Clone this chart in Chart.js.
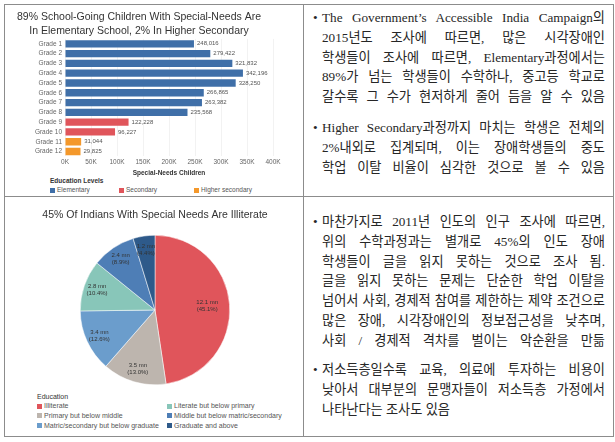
<!DOCTYPE html>
<html>
<head>
<meta charset="utf-8">
<script src="https://cdn.jsdelivr.net/npm/chart.js@4.4.0/dist/chart.umd.min.js"></script>
<style>
  html, body { margin: 0; padding: 0; background: #fff; }
  body { width: 615px; height: 442px; position: relative; overflow: hidden; font-family: "Liberation Sans", Arial, sans-serif; }
  .frame { position: absolute; left: 4px; top: 4px; width: 608px; height: 431px; border: 1px solid #8c8c8c; }
  .vline { position: absolute; left: 303px; top: 4px; width: 1px; height: 433px; background: #8c8c8c; }
  .hline { position: absolute; left: 4px; top: 196px; width: 610px; height: 1px; background: #8c8c8c; }
  canvas { position: absolute; }
  .lgd { position: absolute; color: #555; white-space: nowrap; }
  .lgd .ttl { color: #333; }
  .lgd .item { position: absolute; }
  .lgd .sw { display: inline-block; width: 5px; height: 5px; margin-right: 2px; vertical-align: -0.5px; }
  .txt { position: absolute; left: 322px; width: 283px; font-family: "Liberation Serif", "Noto Sans CJK KR", serif; font-size: 13.2px; line-height: 19.8px; color: #262626; }
  .line { position: relative; white-space: nowrap; text-align: left; }
  .line .b { position: absolute; left: -9px; }
</style>
</head>
<body>
<div class="frame"></div>
<div class="vline"></div>
<div class="hline"></div>

<canvas id="gradeChart" width="298" height="172" style="left:5px; top:5px;"></canvas>
<div id="gradeLegend" class="lgd" style="left:50px; top:177px; font-size:6.5px;"></div>

<canvas id="eduChart" width="298" height="190" style="left:6px; top:198px;"></canvas>
<div id="eduLegend" class="lgd" style="left:37px; top:393px; font-size:7px;"></div>

<div class="txt" style="top:8px;">
  <div class="line"><span class="b">•</span><span>The Government’s Accessible India Campaign의</span></div>
  <div class="line"><span>2015년도 조사에 따르면, 많은 시각장애인</span></div>
  <div class="line"><span>학생들이 조사에 따르면, Elementary과정에서는</span></div>
  <div class="line"><span>89%가 넘는 학생들이 수학하나, 중고등 학교로</span></div>
  <div class="line"><span>갈수록 그 수가 현저하게 줄어 듬을 알 수 있음</span></div>
</div>
<div class="txt" style="top:118px;">
  <div class="line"><span class="b">•</span><span>Higher Secondary과정까지 마치는 학생은 전체의</span></div>
  <div class="line"><span>2%내외로 집계되며, 이는 장애학생들의 중도</span></div>
  <div class="line"><span>학업 이탈 비율이 심각한 것으로 볼 수 있음</span></div>
</div>
<div class="txt" style="top:212px;">
  <div class="line"><span class="b">•</span><span>마찬가지로 2011년 인도의 인구 조사에 따르면,</span></div>
  <div class="line"><span>위의 수학과정과는 별개로 45%의 인도 장애</span></div>
  <div class="line"><span>학생들이 글을 읽지 못하는 것으로 조사 됨.</span></div>
  <div class="line"><span>글을 읽지 못하는 문제는 단순한 학업 이탈을</span></div>
  <div class="line"><span>넘어서 사회, 경제적 참여를 제한하는 제약 조건으로</span></div>
  <div class="line"><span>많은 장애, 시각장애인의 정보접근성을 낮추며,</span></div>
  <div class="line"><span>사회 / 경제적 격차를 벌이는 악순환을 만듦</span></div>
</div>
<div class="txt" style="top:360px;">
  <div class="line"><span class="b">•</span><span>저소득층일수록 교육, 의료에 투자하는 비용이</span></div>
  <div class="line"><span>낮아서 대부분의 문맹자들이 저소득층 가정에서</span></div>
  <div class="line last"><span>나타난다는 조사도 있음</span></div>
</div>

<script>
// 학년별 장애 학생 수
const grades = ['Grade 1', 'Grade 2', 'Grade 3', 'Grade 4', 'Grade 5', 'Grade 6',
  'Grade 7', 'Grade 8', 'Grade 9', 'Grade 10', 'Grade 11', 'Grade 12'];
const children = [248016, 279422, 321832, 342196, 328250, 266865,
  263382, 235568, 122228, 96227, 31044, 29825];
const gradeLevel = [0, 0, 0, 0, 0, 0, 0, 0, 1, 1, 2, 2];
const levels = ['Elementary', 'Secondary', 'Higher secondary'];
const levelColors = ['#3f6fa8', '#e0555b', '#f4982b'];
const xTickStep = 50000;
const xMax = 400000;

// 교육 수준별 인구 (백만 명)
const eduGroups = ['Illiterate', 'Primary but below middle', 'Matric/secondary but below graduate',
  'Literate but below primary', 'Middle but below matric/secondary', 'Graduate and above'];
const eduMillions = [12.1, 3.5, 3.4, 2.8, 2.4, 1.2];
const eduShare = ['45.1%', '13.0%', '12.6%', '10.4%', '8.9%', '4.4%'];
const eduColors = ['#e0555b', '#bdb5ae', '#6b9dcc', '#88c6b9', '#4e7eb6', '#2e5a8a'];
const eduLegendOrder = [0, 3, 1, 4, 2, 5];

const sans = '"Liberation Sans", Arial, sans-serif';

// 막대 끝에 값 표시
const barValueLabels = {
  id: 'barValueLabels',
  afterDatasetsDraw(chart) {
    const ctx = chart.ctx;
    const meta = chart.getDatasetMeta(0);
    ctx.save();
    ctx.font = '6px ' + sans;
    ctx.fillStyle = '#555';
    ctx.textBaseline = 'middle';
    meta.data.forEach((bar, i) => {
      ctx.fillText(children[i].toLocaleString('en-US'), bar.x + 3, bar.y);
    });
    ctx.restore();
  }
};

// 파이 조각 안에 라벨 표시
const pieLabels = {
  id: 'pieLabels',
  afterDatasetsDraw(chart) {
    const ctx = chart.ctx;
    const meta = chart.getDatasetMeta(0);
    ctx.save();
    ctx.font = '6px ' + sans;
    ctx.fillStyle = '#333';
    ctx.textAlign = 'center';
    ctx.textBaseline = 'middle';
    meta.data.forEach((arc, i) => {
      const a = (arc.startAngle + arc.endAngle) / 2;
      const r = arc.outerRadius * (arc.endAngle - arc.startAngle > 2 ? 0.7 : 0.82);
      const x = arc.x + Math.cos(a) * r;
      const y = arc.y + Math.sin(a) * r;
      ctx.fillText(eduMillions[i] + ' mn', x, y - 3.5);
      ctx.fillText('(' + eduShare[i] + ')', x, y + 3.5);
    });
    ctx.restore();
  }
};

new Chart(document.getElementById('gradeChart'), {
  type: 'bar',
  data: {
    labels: grades,
    datasets: [{
      data: children,
      backgroundColor: gradeLevel.map(l => levelColors[l]),
      barPercentage: 0.75,
      categoryPercentage: 1
    }]
  },
  options: {
    indexAxis: 'y',
    responsive: false,
    animation: false,
    layout: { padding: { left: 0, right: 30, top: 0, bottom: 0 } },
    plugins: {
      legend: { display: false },
      tooltip: { enabled: false },
      title: {
        display: true,
        text: ['89% School-Going Children With Special-Needs Are', 'In Elementary School, 2% In Higher Secondary'],
        color: '#333',
        font: { family: sans, size: 10.5, weight: 'normal', lineHeight: 1.33 },
        padding: { top: 5, bottom: 1 }
      }
    },
    scales: {
      x: {
        min: 0,
        max: xMax,
        ticks: { stepSize: xTickStep, callback: v => (v / 1000) + 'K', color: '#666', font: { family: sans, size: 6.5 }, padding: 2 },
        grid: { color: '#f2f2f2', drawTicks: false },
        border: { display: false },
        title: { display: true, text: 'Special-Needs Children', color: '#333', font: { family: sans, size: 6.5, weight: 'bold' }, padding: { top: 1, bottom: 0 } }
      },
      y: {
        ticks: { autoSkip: false, color: '#666', font: { family: sans, size: 6.5 }, padding: 3 },
        grid: { display: false, drawTicks: false },
        border: { display: false },
        afterFit(scale) { scale.width = 60; }
      }
    }
  },
  plugins: [barValueLabels]
});

new Chart(document.getElementById('eduChart'), {
  type: 'pie',
  data: {
    labels: eduGroups,
    datasets: [{
      data: eduMillions,
      backgroundColor: eduColors,
      borderColor: '#fff',
      borderWidth: 0.5
    }]
  },
  options: {
    responsive: false,
    animation: false,
    layout: { padding: { left: 0, right: 0, top: 0, bottom: 3 } },
    plugins: {
      legend: { display: false },
      tooltip: { enabled: false },
      title: {
        display: true,
        text: '45% Of Indians With Special Needs Are Illiterate',
        color: '#333',
        font: { family: sans, size: 10.5, weight: 'normal', lineHeight: 1.2 },
        padding: { top: 10.7, bottom: 13.7 }
      }
    }
  },
  plugins: [pieLabels]
});

// 범례 (HTML)
const gl = document.getElementById('gradeLegend');
gl.innerHTML = '<div class="ttl" style="font-weight:bold;">Education Levels</div>';
const gradeLegendX = [0, 69, 144];
levels.forEach((name, i) => {
  const d = document.createElement('div');
  d.className = 'item';
  d.style.left = gradeLegendX[i] + 'px';
  d.style.top = '9px';
  d.innerHTML = '<span class="sw" style="background:' + levelColors[i] + '"></span>' + name;
  gl.appendChild(d);
});

const el = document.getElementById('eduLegend');
el.innerHTML = '<div class="ttl">Education</div>';
eduLegendOrder.forEach((idx, k) => {
  const d = document.createElement('div');
  d.className = 'item';
  d.style.left = (k % 2 ? 130 : 0) + 'px';
  d.style.top = (9 + Math.floor(k / 2) * 9.8) + 'px';
  d.innerHTML = '<span class="sw" style="background:' + eduColors[idx] + '"></span>' + eduGroups[idx];
  el.appendChild(d);
});

// 본문 줄 맞춤
document.querySelectorAll('.line').forEach(div => {
  const spans = div.querySelectorAll('span:not(.b)');
  const span = spans[spans.length - 1];
  const w = span.getBoundingClientRect().width;
  const W = div.clientWidth;
  if (w > W) {
    span.style.letterSpacing = ((W - w) / span.textContent.length) + 'px';
  } else if (!div.classList.contains('last')) {
    div.style.whiteSpace = 'normal';
    div.style.textAlign = 'justify';
    div.style.textAlignLast = 'justify';
  }
});
</script>
</body>
</html>
